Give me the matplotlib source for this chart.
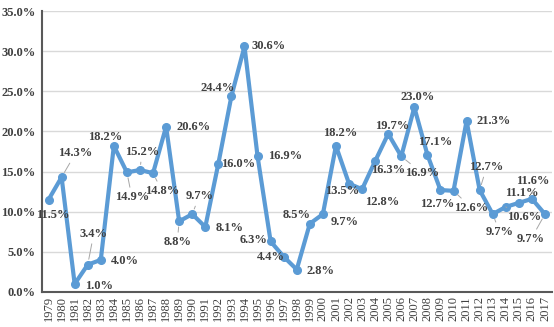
import matplotlib
matplotlib.use("Agg")
import matplotlib.pyplot as plt
from matplotlib.ticker import FuncFormatter

years = list(range(1979, 2018))
values = [11.5, 14.3, 1.0, 3.4, 4.0, 18.2, 14.9, 15.2, 14.8, 20.6,
          8.8, 9.7, 8.1, 16.0, 24.4, 30.6, 16.9, 6.3, 4.4, 2.8,
          8.5, 9.7, 18.2, 13.5, 12.8, 16.3, 19.7, 16.9, 23.0, 17.1,
          12.7, 12.6, 21.3, 12.7, 9.7, 10.6, 11.1, 11.6, 9.7]

# label offsets in pixels (dx, dy with +dy up), and whether a leader line is drawn
offsets = {
    1979: (4, -15, False), 1980: (14, 24, True), 1981: (24, -2, False),
    1982: (6, 31, True), 1983: (24, -1, False), 1984: (-9, 9, False),
    1985: (5, -25, True), 1986: (2, 18, True), 1987: (9, -18, True),
    1988: (27, 0, False), 1989: (-2, -21, True), 1990: (7, 18, True),
    1991: (24, -1, False), 1992: (20, 0, False), 1993: (-14, 8, False),
    1994: (24, 0, False), 1995: (28, 0, False), 1996: (-17, 1, False),
    1997: (-13, 0, False), 1998: (24, -1, False), 1999: (-13, 9, False),
    2000: (22, -8, False), 2001: (4, 13, False), 2002: (-7, -7, False),
    2003: (20, -13, False), 2004: (13, -9, False), 2005: (4, 8, False),
    2006: (21, -17, True), 2007: (3, 10, False), 2008: (8, 13, False),
    2009: (-3, -14, False), 2010: (18, -17, True), 2011: (27, 0, False),
    2012: (7, 23, True), 2013: (7, -18, True), 2014: (18, -10, True),
    2015: (3, 10, False), 2016: (1, 18, True), 2017: (-14, -25, True),
}

plt.rcParams['font.family'] = ['Liberation Serif', 'DejaVu Serif']

fig = plt.figure(figsize=(5.54, 3.27), dpi=100)
ax = fig.add_axes([42/554, 1 - 292/327, (551.5 - 42)/554, (292 - 11)/327])

x = list(range(len(years)))
ax.plot(x, values, color='#5B9BD5', lw=3, marker='o', ms=5.5, zorder=3)

ax.set_xlim(-0.5, len(years) - 0.5)
ax.set_ylim(0, 35)
ax.set_yticks([0, 5, 10, 15, 20, 25, 30, 35])
ax.yaxis.set_major_formatter(FuncFormatter(lambda v, p: f"{v:.1f}%"))
ax.set_xticks(x)
ax.set_xticklabels([str(y) for y in years], rotation=90)
ax.tick_params(axis='y', labelsize=9, colors='#404040', length=0, pad=4.5)
ax.tick_params(axis='x', labelsize=9, colors='#404040', length=0, pad=3)
for lab in ax.get_yticklabels():
    lab.set_fontweight('bold')
ax.grid(axis='y', color='#D9D9D9', lw=1)
ax.set_axisbelow(True)
for s in ['top', 'right']:
    ax.spines[s].set_visible(False)
ax.spines['left'].set_color('#595959')
ax.spines['left'].set_linewidth(1.5)
ax.spines['bottom'].set_color('#595959')
ax.spines['bottom'].set_linewidth(1.5)

for i, (yr, v) in enumerate(zip(years, values)):
    dx, dy, leader = offsets[yr]
    kw = {}
    if leader:
        kw['arrowprops'] = dict(arrowstyle='-', color='#A6A6A6', lw=0.7,
                                shrinkA=1, shrinkB=4)
    ax.annotate(f"{v:.1f}%", xy=(i, v), xytext=(dx, dy),
                textcoords='offset pixels', ha='center', va='center',
                fontsize=9, fontweight='bold', color='#404040', zorder=4, **kw)

fig.savefig('out.png', dpi=100)
